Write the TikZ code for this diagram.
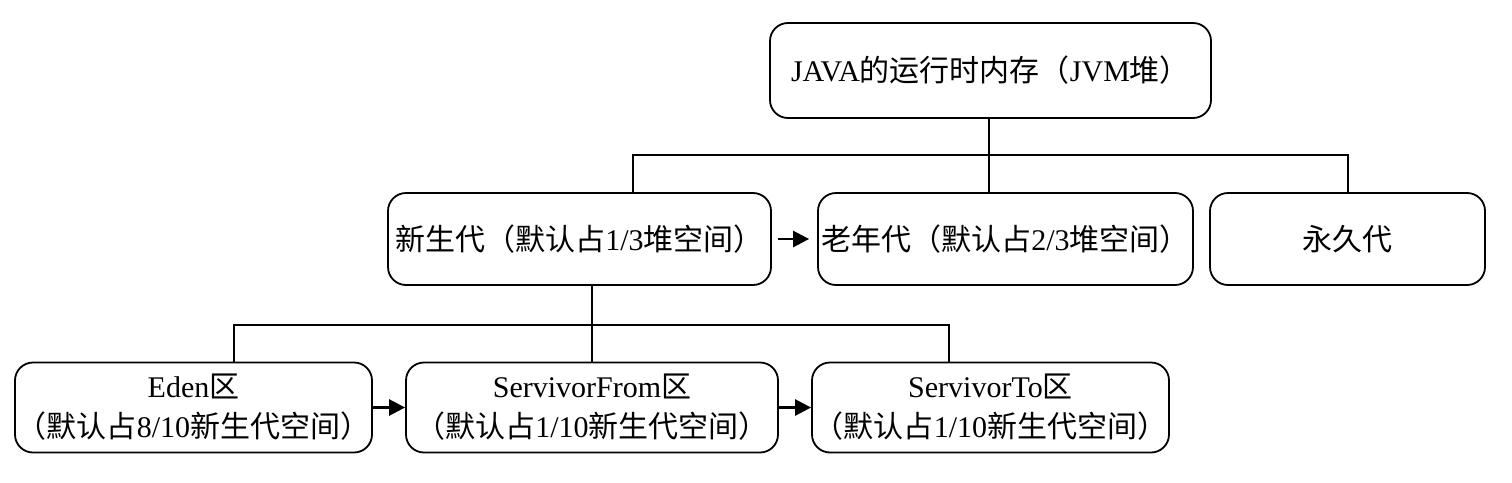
\documentclass[tikz,border=0pt]{standalone}
\usepackage{fontspec}
\setmainfont{Liberation Serif}
\newfontfamily\cjk{Noto Sans CJK SC}
\usetikzlibrary{arrows.meta}
\begin{document}
\begin{tikzpicture}[x=1pt,y=-1pt,
  box/.style={draw, line width=1.8pt, rounded corners=18pt, align=center, inner sep=0pt,
    font=\fontsize{30}{40}\selectfont},
  link/.style={line width=1.8pt},
  arr/.style={line width=2.6pt, -{Triangle[length=16pt,width=16pt]}}]
\useasboundingbox (0,0) rectangle (1512,482);
% top
\node[box, minimum width=441pt, minimum height=95pt] (top) at (990.5,70.5)
  {JAVA{\cjk 的运行时内存（}JVM{\cjk 堆）}};
% middle row
\node[box, minimum width=383pt, minimum height=92pt] (ny) at (579.5,239)
  {{\cjk 新生代（默认占}1/3{\cjk 堆空间）}};
\node[box, minimum width=375pt, minimum height=92pt] (ln) at (1005.5,239)
  {{\cjk 老年代（默认占}2/3{\cjk 堆空间）}};
\node[box, minimum width=275pt, minimum height=92pt] (yj) at (1347.5,239)
  {{\cjk 永久代}};
% bottom row
\node[box, minimum width=357pt, minimum height=90pt] (eden) at (193.5,407.5)
  {Eden{\cjk 区}\\{\cjk （默认占}8/10{\cjk 新生代空间）}};
\node[box, minimum width=372pt, minimum height=90pt] (sf) at (592,407.5)
  {ServivorFrom{\cjk 区}\\{\cjk （默认占}1/10{\cjk 新生代空间）}};
\node[box, minimum width=357pt, minimum height=90pt] (st) at (990.5,407.5)
  {ServivorTo{\cjk 区}\\{\cjk （默认占}1/10{\cjk 新生代空间）}};
% bus 1
\coordinate (b1l) at (633,155);
\coordinate (b1m) at (989,155);
\coordinate (b1r) at (1348,155);
\draw[link] (top.south -| b1m) -- (b1m) -- (b1m |- ln.north);
\draw[link] (b1l |- ny.north) -- (b1l) -- (b1r) -- (b1r |- yj.north);
% bus 2
\coordinate (b2l) at (234,325);
\coordinate (b2m) at (592,325);
\coordinate (b2r) at (949,325);
\draw[link] (ny.south -| b2m) -- (b2m) -- (b2m |- sf.north);
\draw[link] (b2l |- eden.north) -- (b2l) -- (b2r) -- (b2r |- st.north);
% arrows
\draw[arr, shorten <=6pt, shorten >=8pt] (ny.east) -- (ln.west);
\draw[arr] (eden.east) -- (sf.west);
\draw[arr] (sf.east) -- (st.west);
\end{tikzpicture}
\end{document}
